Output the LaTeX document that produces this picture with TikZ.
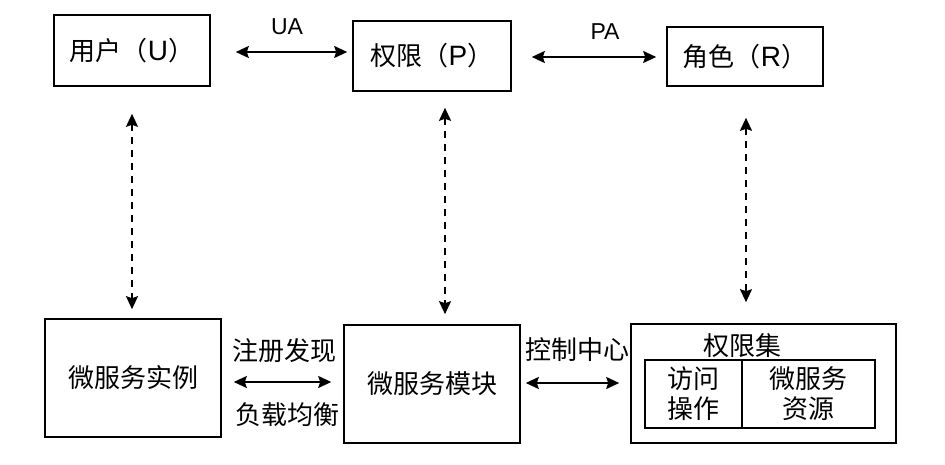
\documentclass[tikz,border=0pt]{standalone}
\usepackage{fontspec}
\setmainfont{Liberation Sans}
\newfontfamily\cjk{Noto Sans CJK SC}
\usetikzlibrary{arrows.meta,calc}
\begin{document}
\begin{tikzpicture}[x=1pt,y=-1pt,
  box/.style={draw,line width=1.6pt,inner sep=0pt,font=\cjk\fontsize{26}{30}\selectfont,align=center},
  lbl/.style={inner sep=0pt,font=\cjk\fontsize{26}{30}\selectfont},
  lat/.style={inner sep=0pt,font=\fontsize{23}{26}\selectfont},
  arr/.style={line width=2pt,{Stealth[length=13pt,width=12pt,inset=2pt]}-{Stealth[length=13pt,width=12pt,inset=2pt]}},
  darr/.style={arr,dash pattern=on 7pt off 6pt}]
\newcommand{\latn}[1]{{\fontspec{Liberation Sans}\fontsize{28}{30}\selectfont #1}}
\useasboundingbox (0,0) rectangle (945,465);
% top boxes
\node[box,minimum width=156pt,minimum height=71pt] (u) at (132,50.5) {用户（\latn{U}）};
\node[box,minimum width=158pt,minimum height=70pt] (p) at (432,56) {权限（\latn{P}）};
\node[box,minimum width=156pt,minimum height=59pt] (r) at (745,56.5) {角色（\latn{R}）};
% bottom boxes
\node[box,minimum width=176pt,minimum height=118pt] (inst) at (133,378) {微服务实例};
\node[box,minimum width=176pt,minimum height=118pt] (mod) at (432,384) {微服务模块};
\node[box,minimum width=265pt,minimum height=119pt] (set) at (763.5,383.5) {};
\node[lbl] (settitle) at (742,346) {权限集};
\node[box,minimum width=97pt,minimum height=68pt] (op) at (693.5,394) {访问\\操作};
\node[box,minimum width=133pt,minimum height=68pt] (res) at (808.5,394) {微服务\\资源};
% labels
\node[lat] (ua) at (287,27) {UA};
\node[lat] (pa) at (605,32) {PA};
\node[lbl] (zc) at (284,351) {注册发现};
\node[lbl] (fz) at (287,415) {负载均衡};
\node[lbl] (kz) at (577,350) {控制中心};
% helper coordinates
\coordinate (yua) at (0,52);
\coordinate (ypa) at (0,57);
\coordinate (yb1) at (0,382);
\coordinate (yb2) at (0,383);
\coordinate (xl) at (132,0);
\coordinate (xm) at (445,0);
\coordinate (xr) at (746,0);
% horizontal arrows
\draw[arr,shorten <=25pt,shorten >=5pt] (u.east |- yua) -- (p.west |- yua);
\draw[arr,shorten <=20pt,shorten >=10pt] (p.east |- ypa) -- (r.west |- ypa);
\draw[arr,shorten <=12pt,shorten >=12pt] (inst.east |- yb1) -- (mod.west |- yb1);
\draw[arr,shorten <=5pt,shorten >=11pt] (mod.east |- yb2) -- (set.west |- yb2);
% vertical dashed arrows
\draw[darr,shorten <=27pt,shorten >=9pt] (xl |- u.south) -- (xl |- inst.north);
\draw[darr,shorten <=16pt,shorten >=10pt] (xm |- p.south) -- (xm |- mod.north);
\draw[darr,shorten <=31pt,shorten >=21pt] (xr |- r.south) -- (xr |- set.north);
\end{tikzpicture}
\end{document}
